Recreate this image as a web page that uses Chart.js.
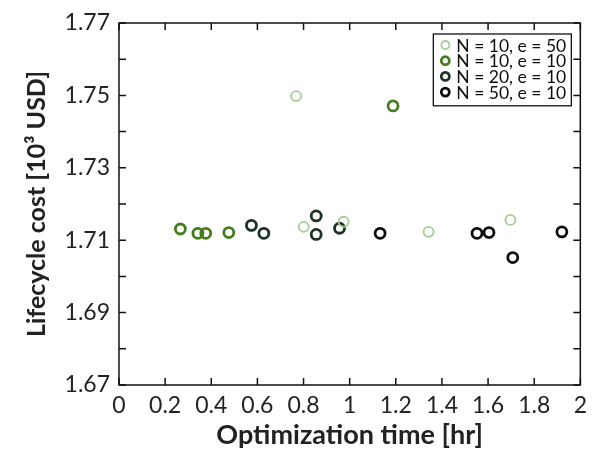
<!DOCTYPE html>
<html>
<head>
<meta charset="utf-8">
<script src="https://cdn.jsdelivr.net/npm/chart.js@4"></script>
<style>
  body { margin: 0; background: #fff; }
  canvas { display: block; }
</style>
</head>
<body>
<canvas id="costChart" width="594" height="453"></canvas>
<script>
// data: optimization time [hr] vs lifecycle cost [10^3 USD]
const seriesLabels = ['N = 10, e = 50', 'N = 10, e = 10', 'N = 20, e = 10', 'N = 50, e = 10'];
const seriesColors = ['#a3cd93', '#457d1b', '#1c3325', '#0e0e0e'];
const seriesBorders = [1.8, 2.8, 2.8, 2.8];

const timeN10e50 = [0.768, 0.801, 0.974, 1.342, 1.697];
const costN10e50 = [1.7498, 1.7137, 1.7151, 1.7123, 1.7156];

const timeN10e10 = [0.266, 0.342, 0.376, 0.476, 1.188];
const costN10e10 = [1.7131, 1.7119, 1.7119, 1.7121, 1.7471];

const timeN20e10 = [0.574, 0.628, 0.855, 0.855, 0.956];
const costN20e10 = [1.7141, 1.7119, 1.7167, 1.7116, 1.7133];

const timeN50e10 = [1.132, 1.552, 1.604, 1.707, 1.920];
const costN50e10 = [1.7119, 1.7119, 1.7121, 1.7052, 1.7123];

const seriesTimes = [timeN10e50, timeN10e10, timeN20e10, timeN50e10];
const seriesCosts = [costN10e50, costN10e10, costN20e10, costN50e10];

const fontFamily = 'Lato, "Open Sans", sans-serif';

// pair up x and y arrays into chart.js points
function toPoints(xs, ys) {
  return xs.map((x, i) => ({ x: x, y: ys[i] }));
}

const datasets = seriesLabels.map((label, i) => ({
  label: label,
  data: toPoints(seriesTimes[i], seriesCosts[i]),
  pointStyle: 'circle',
  pointRadius: 5,
  pointHoverRadius: 5,
  pointBorderWidth: seriesBorders[i],
  borderColor: seriesColors[i],
  backgroundColor: 'rgba(0,0,0,0)',
  showLine: false
}));

// frame with inward ticks on all four sides (matlab style)
const frameTicks = {
  id: 'frameTicks',
  afterDraw(chart) {
    const { ctx, chartArea: area, scales } = chart;
    const len = 7;
    ctx.save();
    ctx.strokeStyle = '#111';
    ctx.lineWidth = 1.5;
    ctx.strokeRect(area.left, area.top, area.right - area.left, area.bottom - area.top);
    ctx.beginPath();
    scales.x.ticks.forEach(t => {
      const px = scales.x.getPixelForValue(t.value);
      ctx.moveTo(px, area.bottom);
      ctx.lineTo(px, area.bottom - len);
      ctx.moveTo(px, area.top);
      ctx.lineTo(px, area.top + len);
    });
    scales.y.ticks.forEach(t => {
      const py = scales.y.getPixelForValue(t.value);
      ctx.moveTo(area.left, py);
      ctx.lineTo(area.left + len, py);
      ctx.moveTo(area.right, py);
      ctx.lineTo(area.right - len, py);
    });
    ctx.stroke();
    ctx.restore();
  }
};

// boxed legend inside the top right corner of the plot
const boxedLegend = {
  id: 'boxedLegend',
  afterDraw(chart) {
    const { ctx, chartArea: area } = chart;
    const right = area.right - 9;
    const top = area.top + 11;
    const width = 138;
    const rowHeight = 15.7;
    const height = rowHeight * chart.data.datasets.length + 9;
    const left = right - width;
    ctx.save();
    ctx.fillStyle = '#fff';
    ctx.fillRect(left, top, width, height);
    ctx.strokeStyle = '#111';
    ctx.lineWidth = 1.3;
    ctx.strokeRect(left, top, width, height);
    ctx.font = '17.5px ' + fontFamily;
    ctx.textBaseline = 'middle';
    chart.data.datasets.forEach((ds, i) => {
      const cy = top + 11 + i * rowHeight;
      ctx.beginPath();
      ctx.arc(left + 12, cy, 4, 0, Math.PI * 2);
      ctx.strokeStyle = ds.borderColor;
      ctx.lineWidth = ds.pointBorderWidth;
      ctx.stroke();
      ctx.fillStyle = '#111';
      ctx.fillText(ds.label, left + 23, cy + 1);
    });
    ctx.restore();
  }
};

const chartConfigs = {
  type: 'scatter',
  data: { datasets: datasets },
  plugins: [frameTicks, boxedLegend],
  options: {
    responsive: false,
    animation: false,
    layout: { padding: { top: 23, right: 9, left: 0, bottom: 0 } },
    plugins: {
      legend: { display: false },
      tooltip: { enabled: false }
    },
    scales: {
      x: {
        type: 'linear',
        min: 0,
        max: 2,
        afterFit: scale => { scale.height = 68; },
        grid: { display: false, drawTicks: false },
        border: { display: false },
        ticks: {
          stepSize: 0.2,
          padding: 7,
          color: '#222',
          font: { family: fontFamily, size: 23 },
          maxRotation: 0,
          autoSkip: false,
          callback: value => String(Math.round(value * 10) / 10)
        },
        title: {
          display: true,
          text: 'Optimization time [hr]',
          color: '#222',
          font: { family: fontFamily, size: 27, weight: 'bold' },
          padding: { top: 0, bottom: 2 }
        }
      },
      y: {
        type: 'linear',
        min: 1.67,
        max: 1.77,
        afterFit: scale => { scale.width = 119; },
        grid: { display: false, drawTicks: false },
        border: { display: false },
        ticks: {
          stepSize: 0.01,
          padding: 9,
          color: '#222',
          font: { family: fontFamily, size: 23 },
          autoSkip: false,
          callback: value => (Math.round(value * 100) % 2 === 1 ? value.toFixed(2) : '')
        },
        title: {
          display: true,
          text: 'Lifecycle cost [10³ USD]',
          color: '#222',
          font: { family: fontFamily, size: 25, weight: 'bold' },
          padding: { top: 22, bottom: 0 }
        }
      }
    }
  }
};

const costChart = new Chart(document.getElementById('costChart'), chartConfigs);
</script>
</body>
</html>
